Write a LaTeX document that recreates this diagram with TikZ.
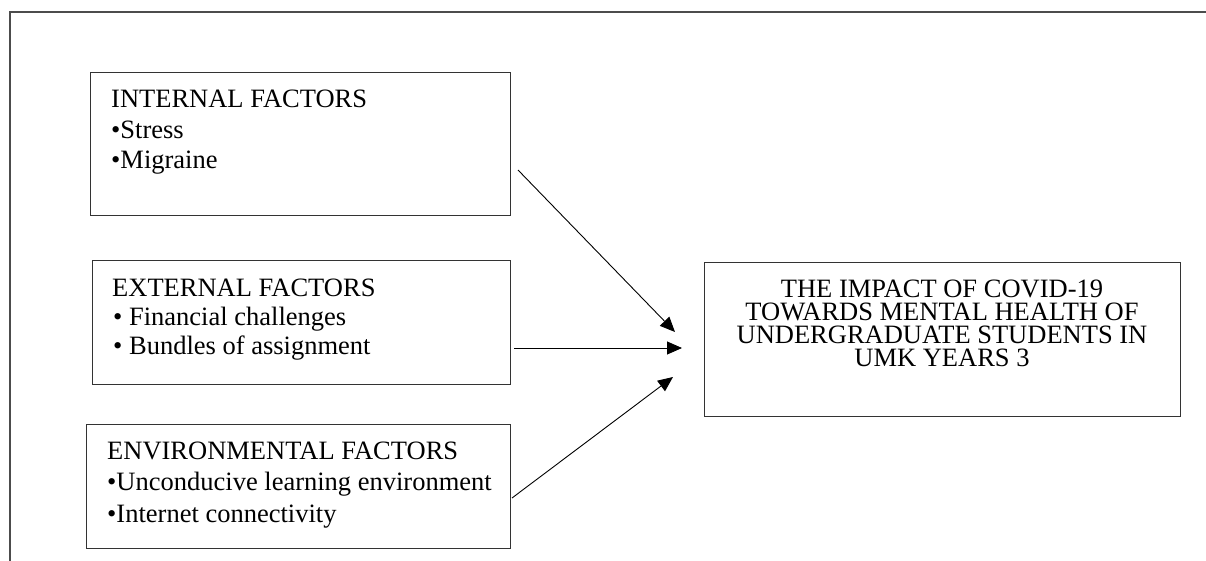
\documentclass[tikz,border=0pt]{standalone}
\usepackage{fontspec}
\setmainfont{Liberation Serif}
\usetikzlibrary{arrows.meta}
\begin{document}
\begin{tikzpicture}[x=1pt,y=-1pt,
  box/.style={draw=black!80, line width=1pt, inner sep=0pt, outer sep=0pt, anchor=north west},
  txt/.style={inner sep=0pt, anchor=base west, font=\fontsize{26.5}{30}\selectfont},
  ctxt/.style={inner sep=0pt, anchor=north, align=center,
    font=\fontsize{26.5}{23}\selectfont},
  arr/.style={line width=0.9pt, -{Triangle[length=15pt,width=13pt]}},
  frameline/.style={draw=black!70, line width=1.5pt}]
\useasboundingbox (0,0) rectangle (1206,561);
% page frame (top and left edges)
\draw[frameline] (10,561) -- (10,12) -- (1206,12);

% factor boxes
\node[box, minimum width=420pt, minimum height=143pt] (internal) at (90,73) {};
\node[box, minimum width=418pt, minimum height=124pt] (external) at (92,260) {};
\node[box, minimum width=424pt, minimum height=124pt] (environmental) at (86,424) {};
% outcome box
\node[box, minimum width=476pt, minimum height=154pt] (impact) at (704,262) {};

% box texts
\node[txt] (int1) at (111,108) {INTERNAL FACTORS};
\node[txt] (int2) at (111,139) {•Stress};
\node[txt] (int3) at (111,169) {•Migraine};

\node[txt] (ext1) at (112,296) {EXTERNAL FACTORS};
\node[txt] (ext2) at (113,325) {• Financial challenges};
\node[txt] (ext3) at (113,354) {• Bundles of assignment};

\node[txt] (env1) at (107,459) {ENVIRONMENTAL FACTORS};
\node[txt] (env2) at (107,490) {•Unconducive learning environment};
\node[txt] (env3) at (107,522) {•Internet connectivity};

\node[ctxt] (imptext) at ([yshift=-18pt]impact.north) {THE IMPACT OF COVID-19\\
  TOWARDS MENTAL HEALTH OF\\ UNDERGRADUATE STUDENTS IN\\ UMK YEARS 3};

% arrow end points in front of the outcome box
\coordinate (tip1) at ([shift={(-29,70)}]impact.north west);
\coordinate (tip2) at ([shift={(-22,86)}]impact.north west);
\coordinate (tip3) at ([shift={(-31,115)}]impact.north west);

\draw[arr] ([shift={(8,25.5)}]internal.east) -- (tip1);
\draw[arr] ([shift={(4,26)}]external.east) -- (tip2);
\draw[arr] ([shift={(2,12)}]environmental.east) -- (tip3);
\end{tikzpicture}
\end{document}
